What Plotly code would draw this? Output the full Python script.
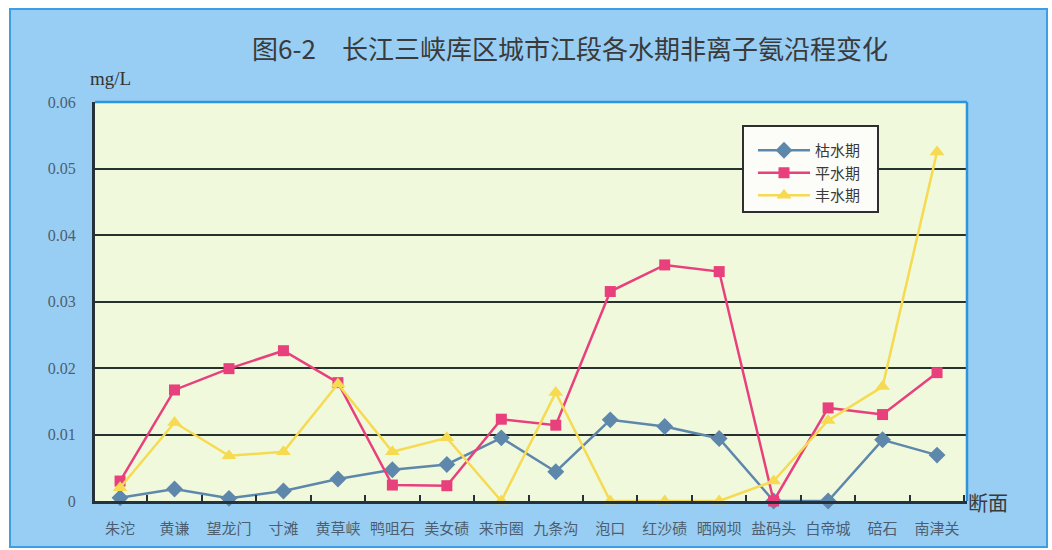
import plotly.graph_objects as go

# 断面 (monitoring sections along the river)
sections = ["朱沱", "黄谦", "望龙门", "寸滩", "黄草峡", "鸭咀石", "美女碛", "来市圈",
            "九条沟", "泡口", "红沙碛", "晒网坝", "盐码头", "白帝城", "碚石", "南津关"]

# 非离子氨 concentration, mg/L
dry_season = [0.0005, 0.0018, 0.0004, 0.0015, 0.0033, 0.0047, 0.0055, 0.0095,
              0.0044, 0.0122, 0.0112, 0.0094, 0.0, 0.0, 0.0092, 0.0069]
normal_season = [0.0030, 0.0167, 0.0199, 0.0226, 0.0178, 0.0024, 0.0023, 0.0123,
                 0.0114, 0.0315, 0.0355, 0.0345, 0.0, 0.0140, 0.0130, 0.0193]
wet_season = [0.0020, 0.0118, 0.0068, 0.0074, 0.0176, 0.0074, 0.0095, 0.0,
              0.0163, 0.0, 0.0, 0.0, 0.0030, 0.0121, 0.0172, 0.0525]

y_ticks = [0, 0.01, 0.02, 0.03, 0.04, 0.05, 0.06]
y_tick_text = ["0", "0.01", "0.02", "0.03", "0.04", "0.05", "0.06"]

W, H = 1052, 550
L, R, T, B = 95, 85, 102, 49
PW, PH = W - L - R, H - T - B


def px(x):
    return (x - L) / PW


def py(y):
    return (H - B - y) / PH


CJK = "Noto Sans CJK SC"
SERIF = "Liberation Serif"

series = [
    ("枯水期", dry_season, "#5E87AC", "diamond", 13),
    ("平水期", normal_season, "#E8407C", "square", 11),
    ("丰水期", wet_season, "#F6DA52", "triangle-up", 13),
]

fig = go.Figure()
for name, vals, color, symbol, size in series:
    fig.add_trace(go.Scatter(
        x=sections, y=vals, name=name, mode="lines+markers",
        line=dict(color=color, width=2.5),
        marker=dict(symbol=symbol, size=size, color=color),
        cliponaxis=False,
    ))

shapes = [
    # light blue panel
    dict(type="rect", xref="paper", yref="paper", layer="below",
         x0=px(10), x1=px(1047), y0=py(547), y1=py(9),
         fillcolor="#98CEF3", line=dict(color="#3E9EE2", width=2)),
    # plot area fill
    dict(type="rect", xref="paper", yref="paper", layer="below",
         x0=0, x1=1, y0=0, y1=1,
         fillcolor="#F1F9DC", line=dict(width=0)),
    # blue top and right edges of the plot area
    dict(type="line", xref="paper", yref="paper", layer="above",
         x0=0, x1=1, y0=1, y1=1, line=dict(color="#2F95DA", width=2.5)),
    dict(type="line", xref="paper", yref="paper", layer="above",
         x0=1, x1=1, y0=0, y1=1, line=dict(color="#2F95DA", width=2.5)),
    # legend frame
    dict(type="rect", xref="paper", yref="paper", layer="above",
         x0=px(743), x1=px(878), y0=py(212), y1=py(126),
         fillcolor="#FCFDF8", line=dict(color="#2E2E2E", width=2)),
]

annotations = [
    dict(text="图6-2　长江三峡库区城市江段各水期非离子氨沿程变化",
         xref="paper", yref="paper", x=px(570), y=py(48),
         xanchor="center", yanchor="middle", showarrow=False,
         font=dict(family=CJK, size=26, color="#3A3A3A")),
    dict(text="mg/L", xref="paper", yref="paper", x=px(110), y=py(78),
         xanchor="center", yanchor="middle", showarrow=False,
         font=dict(family=SERIF, size=19, color="#333333")),
    dict(text="断面", xref="paper", yref="paper", x=px(966), y=py(503),
         xanchor="left", yanchor="middle", showarrow=False,
         font=dict(family=CJK, size=20, color="#3A3A3A")),
]

fig.update_layout(
    width=W, height=H,
    margin=dict(l=L, r=R, t=T, b=B, pad=0),
    paper_bgcolor="white",
    plot_bgcolor="rgba(0,0,0,0)",
    shapes=shapes,
    annotations=annotations,
    showlegend=True,
    legend=dict(
        x=px(753), y=py(134), xanchor="left", yanchor="top",
        bgcolor="rgba(0,0,0,0)", borderwidth=0,
        font=dict(family=CJK, size=15, color="#3A3A3A"),
        itemwidth=52, tracegroupgap=0,
    ),
    xaxis=dict(
        type="category", range=[-0.46, 15.55],
        showline=True, linecolor="#263238", linewidth=2.5,
        showgrid=False, zeroline=False,
        ticks="inside", tickson="boundaries", ticklen=6, tickwidth=2,
        tickcolor="#263238",
        tickangle=0, automargin=False,
        ticklabelstandoff=12,
        tickfont=dict(family=CJK, size=15, color="#4E5E70"),
    ),
    yaxis=dict(
        range=[0, 0.06], tickvals=y_ticks, ticktext=y_tick_text,
        showline=True, linecolor="#263238", linewidth=3,
        showgrid=True, gridcolor="#26322E", gridwidth=2,
        zeroline=False, ticks="", automargin=False,
        ticklabelstandoff=13,
        tickfont=dict(family=SERIF, size=16, color="#4E5E70"),
    ),
)

fig.write_html("out.html")
